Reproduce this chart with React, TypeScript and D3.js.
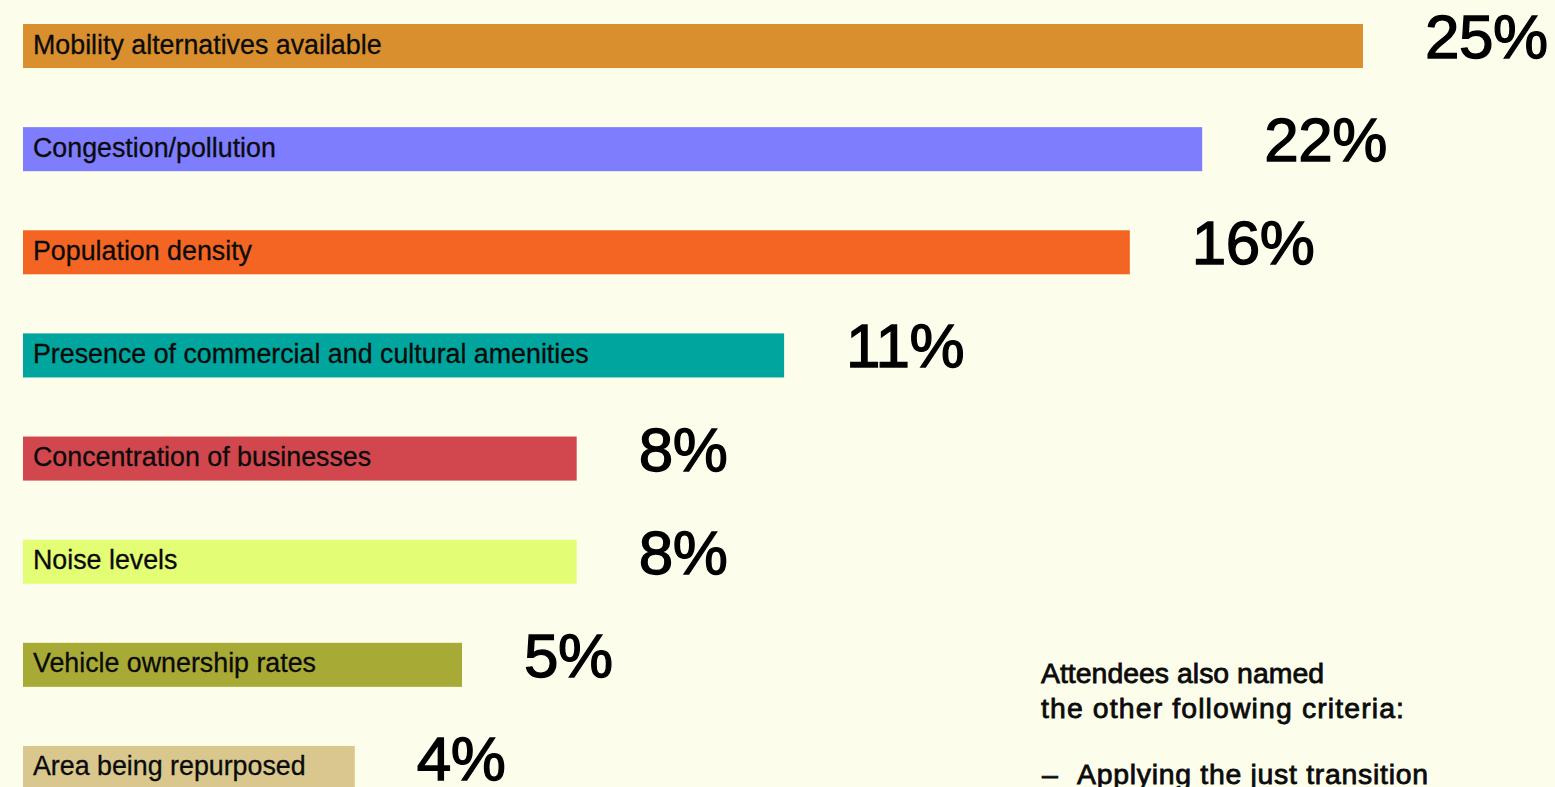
import { useEffect, useRef } from 'react';
import * as d3 from 'd3';

const WIDTH = 1555;
const HEIGHT = 787;

const categories = [
  'Mobility alternatives available',
  'Congestion/pollution',
  'Population density',
  'Presence of commercial and cultural amenities',
  'Concentration of businesses',
  'Noise levels',
  'Vehicle ownership rates',
  'Area being repurposed',
];
// printed shares
const shareLabels = [25, 22, 16, 11, 8, 8, 5, 4];
// bar lengths as drawn, in the same units as the top bar
const barLengths = [25, 22, 20.65, 14.2, 10.33, 10.33, 8.19, 6.19];
const barColors = ['#d98f2e', '#7d7dfe', '#f46524', '#00a59e', '#d2474e', '#e3fd74', '#a8aa36', '#d9c78e'];

const noteLines = ['Attendees also named', 'the other following criteria:'];
const noteItems = ['Applying the just transition'];

const BG = '#fcfeeb';
const FONT = '"Liberation Sans", Arial, sans-serif';

export default function App() {
  const svgRef = useRef<SVGSVGElement>(null);

  useEffect(() => {
    document.body.style.margin = '0';
    document.body.style.background = BG;
    const svg = svgRef.current;
    if (!svg) return;

    const root = d3.select(svg);
    root.selectAll('*').remove();

    root.append('rect').attr('width', WIDTH).attr('height', HEIGHT).attr('fill', BG);

    const x = d3.scaleLinear().domain([0, 25]).range([23, 1363]);
    const y = d3.scaleBand<string>().domain(categories).range([24, 790]).paddingInner(0.573).paddingOuter(0);

    const rows = root.selectAll('g.row').data(categories).join('g').attr('class', 'row');

    rows.append('rect')
      .attr('x', x(0))
      .attr('y', d => y(d)!)
      .attr('width', (_, i) => x(barLengths[i]) - x(0))
      .attr('height', y.bandwidth())
      .attr('fill', (_, i) => barColors[i]);

    rows.append('text')
      .attr('x', x(0) + 10)
      .attr('y', d => y(d)! + 29.5)
      .attr('font-family', FONT)
      .attr('font-size', 26.8)
      .attr('fill', '#0b0b0b')
      .attr('stroke', '#0b0b0b')
      .attr('stroke-width', 0.3)
      .text(d => d);

    rows.append('text')
      .attr('x', (_, i) => x(barLengths[i]) + 62)
      .attr('y', d => y(d)! + y.bandwidth() - 10)
      .attr('font-family', FONT)
      .attr('font-size', 62)
      .attr('letter-spacing', -0.5)
      .attr('fill', '#000')
      .attr('stroke', '#000')
      .attr('stroke-width', 1.3)
      .text((_, i) => `${shareLabels[i]}%`);

    // side note
    const note = root.append('g').attr('font-family', FONT).attr('fill', '#0b0b0b')
      .attr('stroke', '#0b0b0b').attr('stroke-width', 0.8);
    const noteWidths = [283, 363];
    noteLines.forEach((line, i) => {
      note.append('text')
        .attr('x', 1041)
        .attr('y', 683 + i * 35)
        .attr('font-size', 28.4)
        .attr('textLength', noteWidths[i])
        .text(line);
    });
    noteItems.forEach((item, i) => {
      note.append('text').attr('x', 1042).attr('y', 784 + i * 35).attr('font-size', 28.4).text('–');
      note.append('text').attr('x', 1077).attr('y', 784 + i * 35).attr('font-size', 28.4)
        .attr('textLength', 351).text(item);
    });
  }, []);

  return <svg ref={svgRef} width={WIDTH} height={HEIGHT} style={{ display: 'block' }} />;
}
